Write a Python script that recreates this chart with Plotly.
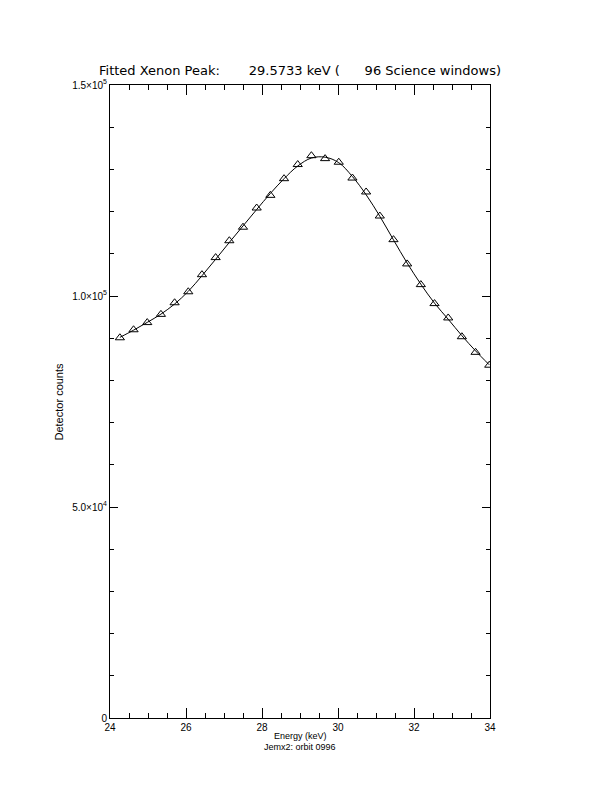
import plotly.graph_objects as go

energy = [24.26, 24.62, 24.98, 25.34, 25.70, 26.06, 26.42, 26.78, 27.14, 27.50,
          27.86, 28.22, 28.58, 28.94, 29.30, 29.66, 30.02, 30.38, 30.74, 31.10,
          31.46, 31.82, 32.18, 32.54, 32.90, 33.26, 33.62, 33.98]
counts = [90100, 92000, 93700, 95650, 98400, 101000, 105050, 109100, 113100, 116300,
          120850, 123850, 127800, 131150, 133250, 132550, 131700, 127950, 124650, 118950,
          113350, 107600, 102700, 98200, 94800, 90350, 86650, 83600]
fit = [90200, 91900, 93750, 95700, 98100, 101100, 104800, 108700, 112700, 116600,
       120500, 124300, 127800, 130800, 132700, 132900, 131600, 128300, 124000, 118900,
       113300, 107800, 102800, 98300, 94500, 90600, 87000, 83700]

x_ticks = [24, 26, 28, 30, 32, 34]
y_ticks = [0, 50000, 100000, 150000]
y_ticktext = ["0", "5.0×10<sup>4</sup>", "1.0×10<sup>5</sup>", "1.5×10<sup>5</sup>"]

title_text = "Fitted Xenon Peak:       29.5733 keV (      96 Science windows)"
font_family = "Liberation Sans"

fig = go.Figure()
fig.add_trace(go.Scatter(x=energy, y=fit, mode="lines", line=dict(color="black", width=1, shape="spline"),
                         showlegend=False, hoverinfo="skip"))
fig.add_trace(go.Scatter(x=energy, y=counts, mode="markers",
                         marker=dict(symbol="triangle-up-open", size=8, color="black", line=dict(width=1, color="black")),
                         showlegend=False))

fig.update_layout(
    width=612, height=792,
    margin=dict(l=102, r=130, t=77, b=82),
    paper_bgcolor="white", plot_bgcolor="white",
    font=dict(family=font_family, size=10, color="black"),
    xaxis=dict(range=[24, 34], tickvals=x_ticks, ticks="inside", ticklen=10, tickwidth=1,
               tickcolor="black", showline=True, linecolor="black", linewidth=1, mirror="ticks",
               showgrid=False, zeroline=False,
               minor=dict(dtick=0.5, tick0=24, ticks="inside", ticklen=5, tickcolor="black", showgrid=False),
               tickfont=dict(size=10)),
    yaxis=dict(range=[0, 150000], tickvals=y_ticks, ticktext=y_ticktext, ticks="inside", ticklen=8,
               tickwidth=1, tickcolor="black", showline=True, linecolor="black", linewidth=1,
               mirror="ticks", showgrid=False, zeroline=False,
               minor=dict(dtick=10000, tick0=0, ticks="inside", ticklen=4, tickcolor="black", showgrid=False),
               tickfont=dict(size=10)),
    annotations=[
        dict(text=title_text, xref="paper", yref="paper", x=-0.034, y=1.0, xanchor="left", yanchor="bottom",
             yshift=5, showarrow=False, font=dict(size=13, family="DejaVu Sans")),
        dict(text="Energy (keV)", xref="paper", yref="paper", x=0.5, y=0, xanchor="center", yanchor="top",
             yshift=-11, showarrow=False, font=dict(size=9)),
        dict(text="Jemx2: orbit 0996", xref="paper", yref="paper", x=0.5, y=0, xanchor="center", yanchor="top",
             yshift=-22, showarrow=False, font=dict(size=9)),
        dict(text="Detector counts", xref="paper", yref="paper", x=0, y=0.5, xanchor="center", yanchor="middle",
             xshift=-52, textangle=-90, showarrow=False, font=dict(size=11)),
    ],
)

fig.write_html("out.html")
